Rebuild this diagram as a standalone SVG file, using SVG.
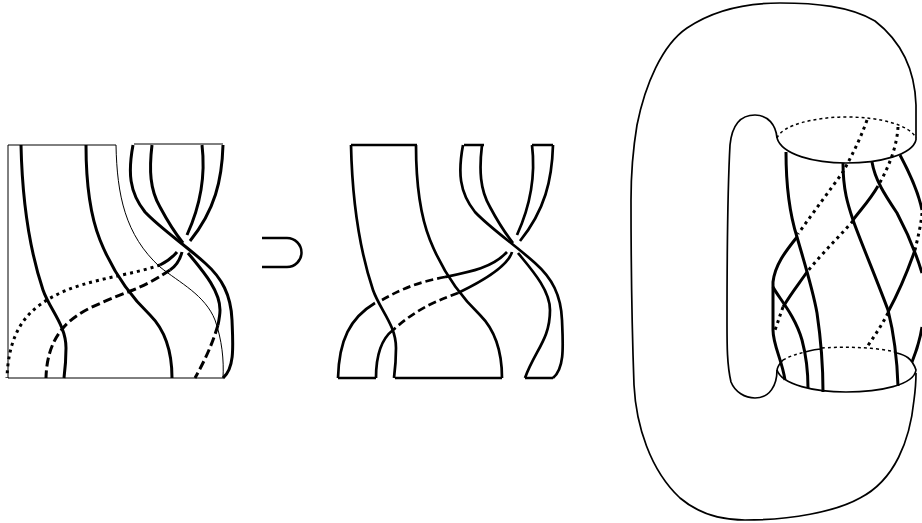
<svg xmlns="http://www.w3.org/2000/svg" width="922" height="523" viewBox="0 0 922 523">
<style>
path{fill:none;stroke:#000;stroke-linecap:butt}
.thin{stroke-width:1}
.o{stroke-width:1.7}
.s{stroke-width:3}
.m{stroke-width:2.7}
.dot{stroke-width:3;stroke-dasharray:3 4}
.dash{stroke-width:3;stroke-dasharray:9 4}
.mdash{stroke-width:2.7;stroke-dasharray:8 4}
.fine{stroke-width:1.5;stroke-dasharray:3 3}
</style>
<defs>
<path id="a" d="M21 145C22 190 28 245 43 290C50 310 66 325 66 348C66 360 65 370 64 378"/>
<path id="b" d="M86 145C86 185 90 215 100 240C110 265 127 293 150 315C162 327 172 345 172 378"/>
<path id="c" d="M133 145C128 172 129 192 145 212C160 228 185 245 205 263C222 278 231 295 232 320C233 345 235 368 223 378"/>
<path id="d1" d="M152 145C149 170 150 190 160 207C168 222 175 233 183 243"/>
<path id="e" d="M202 145C205 170 203 200 187 235"/>
<path id="f" d="M223 145C222 180 215 210 190 241"/>
</defs>
<g id="left-figure">
<path class="thin" d="M116 145H8V378H223M134 144H223"/>
<path class="thin" d="M116 145C117 195 125 235 160 267C180 283 205 295 215 320C222 340 224 360 223 378"/>
<g class="s">
<use href="#a"/><use href="#b"/><use href="#c"/><use href="#d1"/><use href="#e"/><use href="#f"/>
<path d="M188 253C202 270 220 290 220 310C220 315 219 320 218 325"/>
<path d="M177 252C172 258 166 262 160 265"/>
<path d="M182 252C180 260 176 266 170 270"/>
</g>
<path class="dash" d="M218 325C212 345 205 360 195 378"/>
<path class="dot" d="M160 265C140 272 115 276 100 280C75 286 55 293 37 307C18 322 8 345 7 378"/>
<path class="dash" d="M170 270C155 280 145 285 133 290C115 297 105 301 90 308C70 318 47 335 46 378"/>
</g>
<g id="superset">
<path class="s" style="stroke-width:2.5" d="M262 238H287A14.500 14.500 0 0 1 287 267H262"/>
</g>
<g id="middle-figure">
<g class="m" transform="translate(330 0)">
<use href="#a"/><use href="#b"/><use href="#c"/><use href="#d1"/><use href="#e"/><use href="#f"/>
<path d="M188 253C202 270 220 290 220 310C220 340 205 350 195 378"/>
<path d="M177 252C162 268 140 272 115 277"/>
<path d="M182 252C178 266 155 280 128 293"/>
<path d="M45 303C20 318 9 340 8 378"/>
<path d="M63 330C50 340 46 358 46 378"/>
<path d="M21 145H87M134 145H154M202 145H223M8 378H46M65 378H172M195 378H223"/>
</g>
<g transform="translate(330 0)">
<path class="mdash" d="M115 277C90 282 75 287 52 300"/>
<path class="mdash" d="M128 293C110 300 90 306 63 330"/>
</g>
</g>
<g id="right-figure">
<path class="o" d="M916 140V105C915 72 902 42 875 21C850 6 815 3 780 3C745 3 712 11 687 28C662 45 645 85 637 125C632 155 631 175 631 200C631 260 632 330 634 385C636 425 650 470 680 498C700 515 725 520 745 520C790 520 835 512 860 498C895 480 910 440 914 400C916 385 916 375 916 373"/>
<path class="o" d="M777 138C776 125 768 115 755 115C740 115 732 125 730 145C727 200 727 270 727 323C727 345 727 365 731 382C735 392 745 398 755 398C770 398 777 385 777 370"/>
<path class="o" d="M777 138C782 155 815 163 846 163C880 163 912 155 916 140"/>
<path class="fine" d="M777 138C782 125 815 117 846 117C880 117 910 125 916 138"/>
<path class="o" d="M777 370C782 385 815 392 846 392C880 392 914 385 916 370C912 358 905 355 897 353"/>
<path class="o" d="M777 370C778 365 781 362 783 360M805 352C812 350 818 349 822 349"/>
<path class="fine" d="M783 360C790 356 797 354 805 352M822 348C835 347 870 346 895 352"/>
<g class="s">
<path d="M786 152C786 190 790 215 797 237C805 265 813 290 817 313C821 340 823 365 823 392"/>
<path d="M843 163C843 190 848 205 853 220C860 240 875 275 888 310C893 330 897 355 898 386"/>
<path d="M872 162C875 180 885 195 897 213C905 228 915 250 922 273"/>
<path d="M900 155C908 170 918 190 922 210"/>
<path d="M922 327C920 340 916 352 912 362"/>
<path d="M797 237C785 252 775 265 773 282V330C773 345 782 360 785 380"/>
<path d="M773 287C778 297 795 315 802 340C806 355 808 370 808 388"/>
<path d="M878 186C870 200 862 208 853 220"/>
<path d="M807 272C798 285 792 292 783 307"/>
<path d="M915 250C908 270 900 290 888 312"/>
</g>
<g class="dot">
<path d="M867 120C860 140 852 155 843 172C830 190 815 210 798 234"/>
<path d="M898 127C897 145 890 165 878 186"/>
<path d="M853 221C838 238 825 250 807 272"/>
<path d="M783 307C780 315 778 322 775 330"/>
<path d="M922 213C921 225 918 237 915 250"/>
<path d="M888 313C882 325 875 335 867 347"/>
</g>
</g>
</svg>
